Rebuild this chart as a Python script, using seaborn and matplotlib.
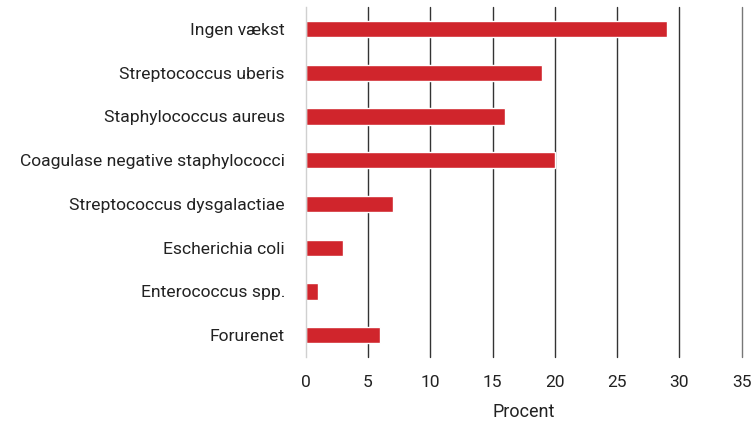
import matplotlib
matplotlib.use("Agg")
import matplotlib.pyplot as plt
import seaborn as sns
import pandas as pd

categories = ["Ingen vækst", "Streptococcus uberis", "Staphylococcus aureus",
              "Coagulase negative staphylococci", "Streptococcus dysgalactiae",
              "Escherichia coli", "Enterococcus spp.", "Forurenet"]
values = [29, 19, 16, 20, 7, 3, 1, 6]
xticks = [0, 5, 10, 15, 20, 25, 30, 35]

sns.set_style("white")
plt.rcParams['font.family'] = ['Roboto', 'DejaVu Sans']

df = pd.DataFrame({"cat": categories, "val": values})
fig, ax = plt.subplots(figsize=(7.53, 4.22), dpi=100)
fig.subplots_adjust(left=0.406, right=0.985, top=0.983, bottom=0.154)

sns.barplot(data=df, x="val", y="cat", color="#D0252C", saturation=1,
            width=0.37, ax=ax, orient="h")

ax.set_xlim(0, 35)
ax.set_xticks(xticks)
ax.set_xticklabels([str(t) for t in xticks], fontsize=12.5, color="#222222")
ax.tick_params(axis="y", labelsize=12.6, labelcolor="#222222", length=0, pad=15)
ax.tick_params(axis="x", length=0, pad=13)
ax.set_ylabel("")
ax.set_xlabel("Procent", fontsize=13, color="#222222", labelpad=9)
for t in xticks[1:]:
    ax.axvline(t, color="#333333" if t < 35 else "#777777",
               linewidth=1.0, zorder=0, clip_on=False)
for s in ["top", "right", "bottom"]:
    ax.spines[s].set_visible(False)
ax.spines["left"].set_color("#d0d0d0")
ax.spines["left"].set_linewidth(1.0)
ax.set_ylim(7.5, -0.5)

fig.savefig("out.png", dpi=100)
